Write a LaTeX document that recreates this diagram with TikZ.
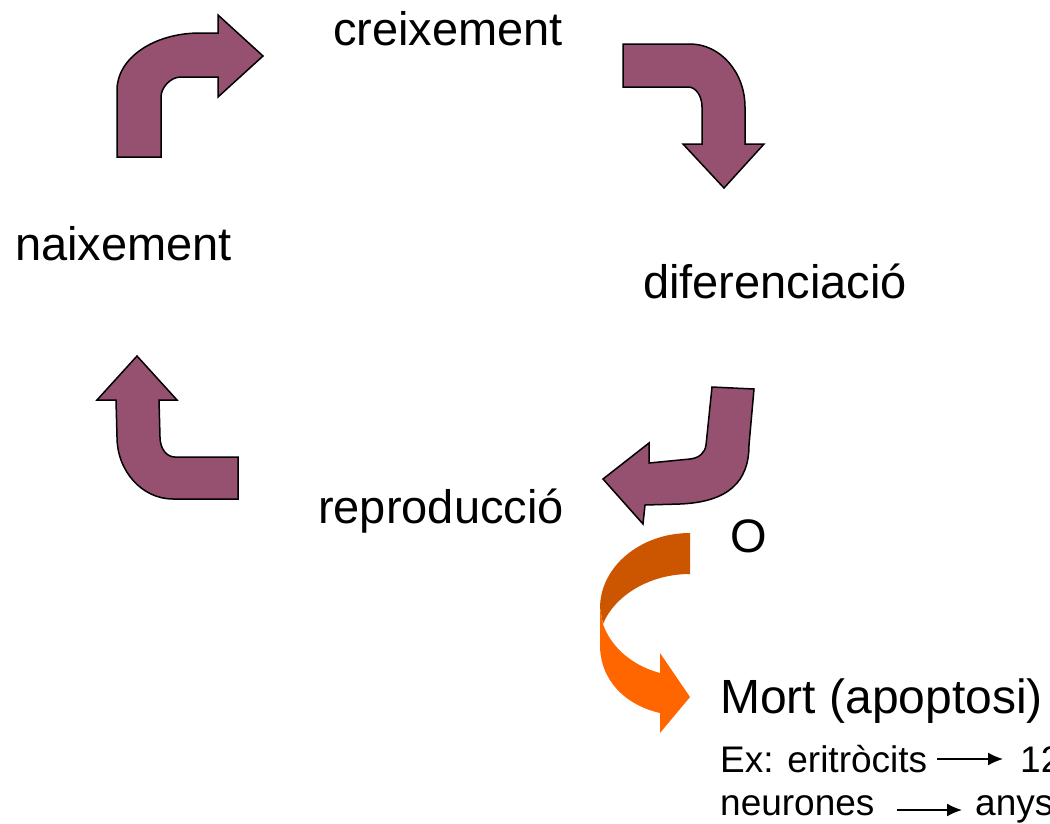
\documentclass[tikz,border=0pt]{standalone}
\usepackage{fontspec}
\setmainfont{Liberation Sans}
\usepackage{tikz}
\usetikzlibrary{calc, positioning, arrows.meta}

\definecolor{cyclepurple}{RGB}{150,80,112}
\definecolor{deathdark}{RGB}{204,85,0}
\definecolor{deathlight}{RGB}{255,102,0}

\begin{document}
\begin{tikzpicture}[x=1pt, y=-1pt,
    stage/.style={inner sep=0pt, anchor=base west, font=\fontsize{47}{52}\selectfont},
    deathtext/.style={inner sep=0pt, anchor=base west, font=\fontsize{48}{52}\selectfont},
    example/.style={inner sep=0pt, anchor=base west, font=\fontsize{37}{42}\selectfont},
    bent/.style={fill=cyclepurple, draw=black, line width=1.5pt, line join=miter},
    lifespan/.style={-{Latex[length=15pt, width=13pt]}, line width=1.6pt}]

  \clip (0,0) rectangle (1050,823);

  % CYCLE STAGES

  \node[stage] (creix) at (333,45) {creixement};
  \node[stage] (naix) at (15,260) {naixement};
  \node[stage] (difer) at (643,298) {diferenciació};
  \node[stage] (repro) at (318,523) {reproducció};
  \node[stage] (o) at (730,552) {O};

  % CYCLE ARROWS

  % naixement -> creixement
  \draw[bent] (117,157) -- (117,90) .. controls (117,58) and (154,33) .. (200,33)
    -- (218,33) -- (218,15) -- (263,56) -- (218,97) -- (218,77) -- (181,77)
    .. controls (170,77) and (161,88) .. (161,97) -- (161,157) -- cycle;

  % creixement -> diferenciacio
  \draw[bent] (623,44) -- (690,44) .. controls (720,44) and (745,72) .. (745,107)
    -- (745,144) -- (764,144) -- (724,188) -- (683,144) -- (702,144) -- (702,107)
    .. controls (702,96) and (696,87) .. (688,87) -- (623,87) -- cycle;

  % diferenciacio -> reproduccio
  \draw[bent] (754,389) -- (712,387) -- (706,445) .. controls (705,453) and (699,458) .. (690,459)
    -- (649,463) -- (649,443) -- (603,479) -- (643,524) -- (645,505) -- (680,504)
    .. controls (728,502) and (749,482) .. (749,445) -- cycle;

  % reproduccio -> naixement
  \draw[bent] (137,356) -- (177,400) -- (159,400) -- (160,437)
    .. controls (160,448) and (166,457) .. (175,457) -- (238,457) -- (238,499) -- (173,499)
    .. controls (142,499) and (117,471) .. (117,437) -- (116,400) -- (97,400) -- cycle;

  % DEATH ARROW

  \fill[deathdark] (690,533) .. controls (640,533) and (600,567) .. (600,608) -- (603,624)
    .. controls (615,595) and (650,574) .. (690,574) -- cycle;
  \fill[deathlight] (600,608) -- (600,645) .. controls (600,680) and (625,705) .. (660,713)
    -- (660,733) -- (690,697) -- (660,653) -- (660,673)
    .. controls (630,665) and (610,645) .. (603,624) -- cycle;

  % DEATH TEXT

  \node[deathtext] (mort) at (720,713) {Mort (apoptosi)};
  \node[example] (eritro) at (720,772) {Ex: eritròcits};
  \node[example] (n12) at (1020,772) {12};
  \node[example] (neuro) at (720,815) {neurones};
  \node[example] (anys) at (975,815) {anys};

  \draw[lifespan] ($(eritro.base east)+(10pt,13pt)$) -- ($(n12.base west)+(-17pt,13pt)$);
  \draw[lifespan] ($(neuro.base east)+(22pt,5pt)$) -- ($(anys.base west)+(-13pt,5pt)$);

\end{tikzpicture}
\end{document}
